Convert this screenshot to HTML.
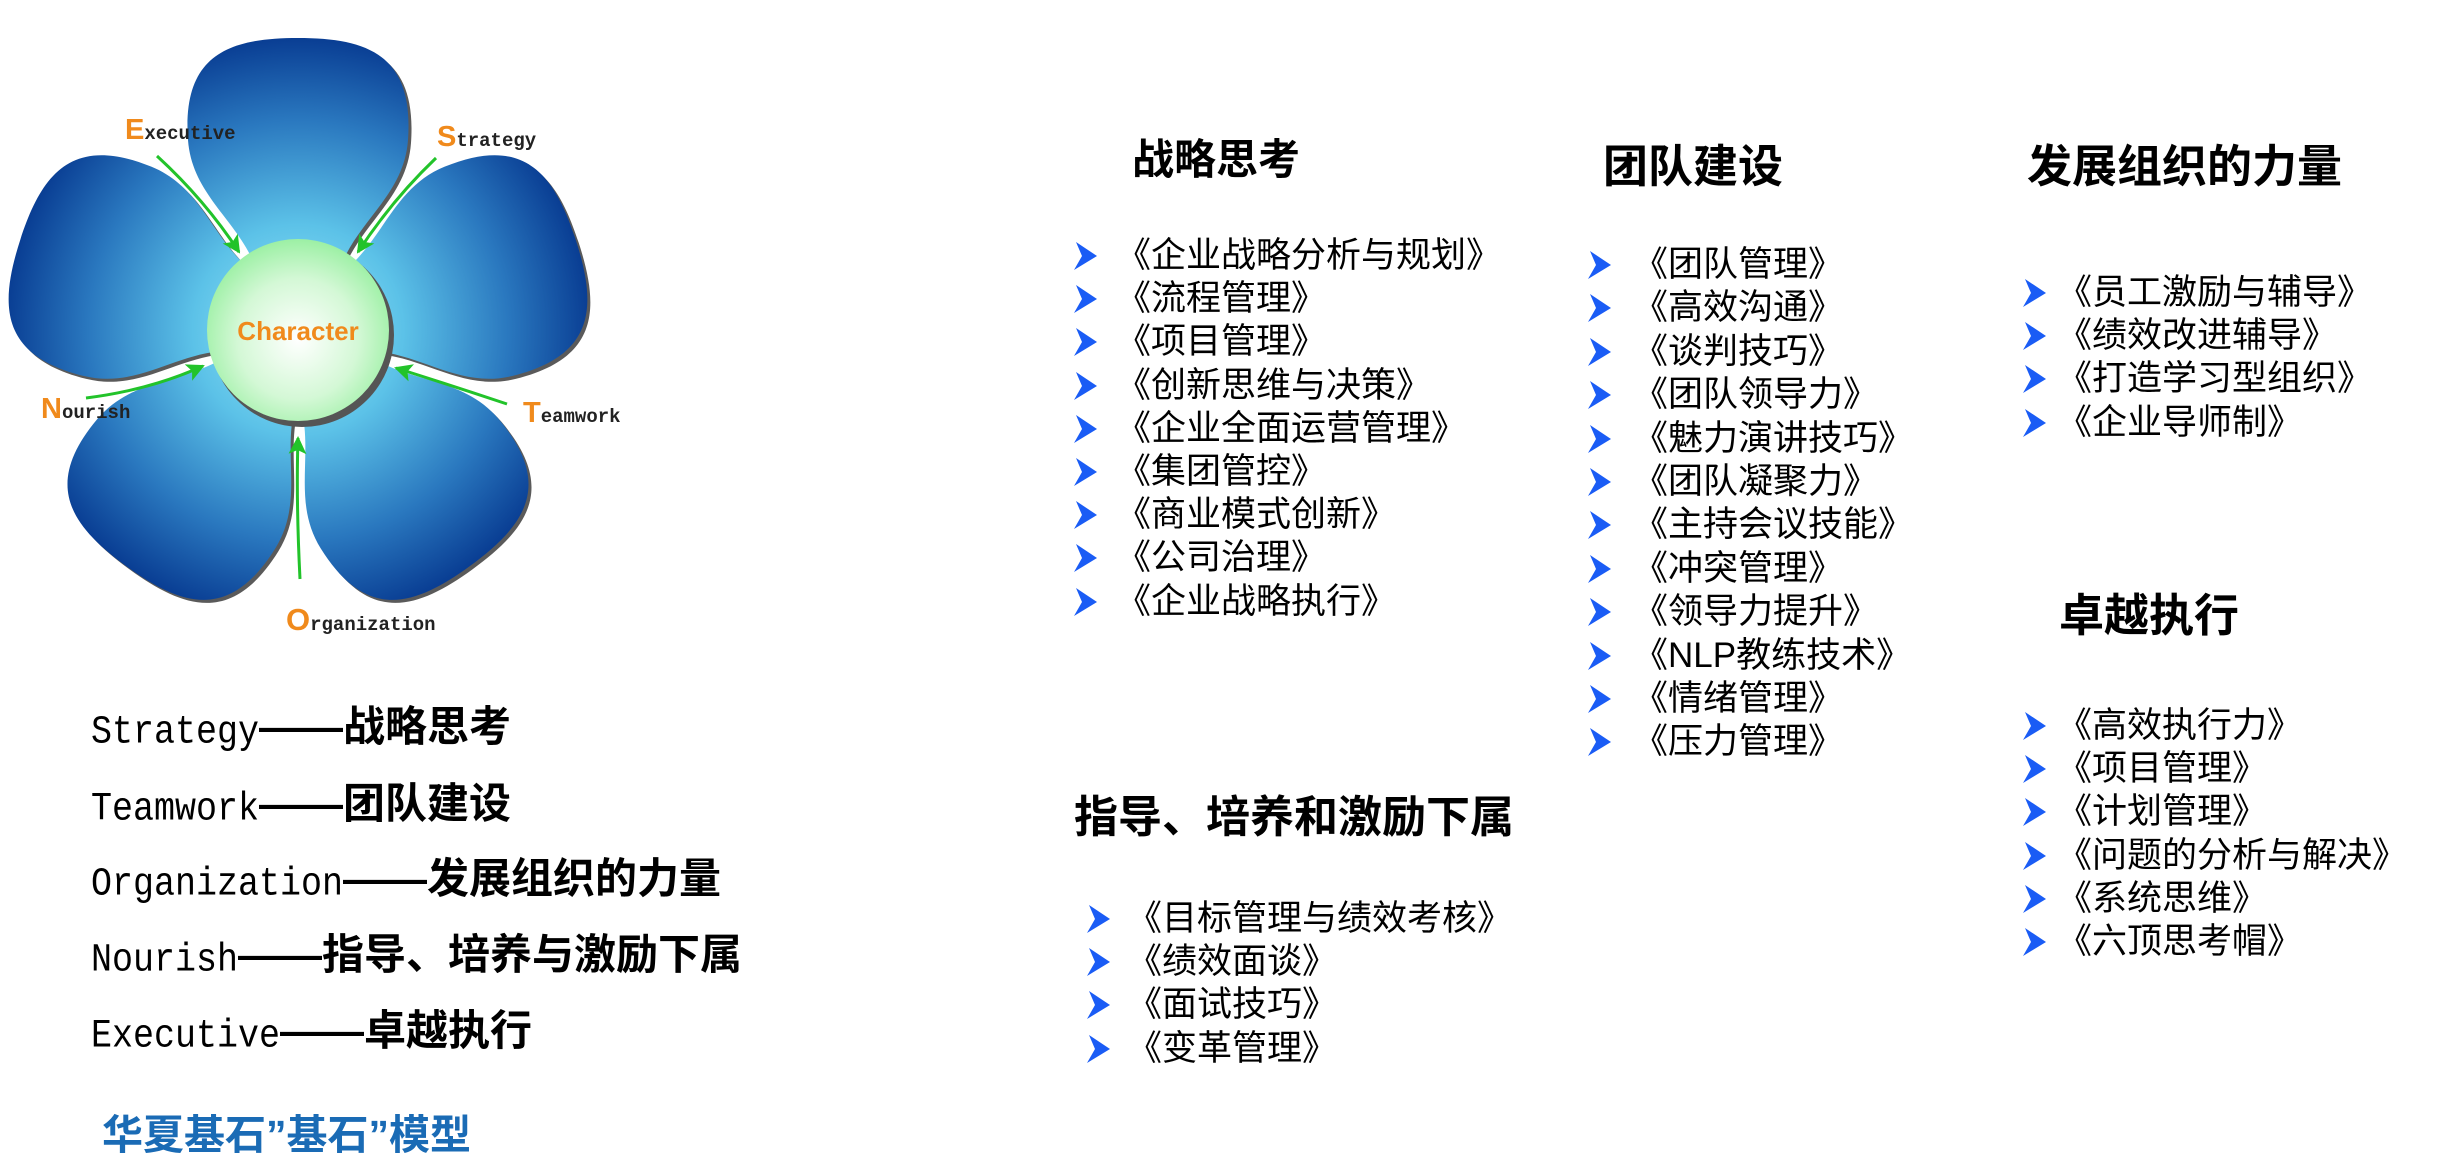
<!DOCTYPE html>
<html><head><meta charset="utf-8">
<style>
html,body{margin:0;padding:0;background:#fff;}
#w{position:relative;width:2458px;height:1164px;overflow:hidden;background:#fff;font-family:"Liberation Sans","Noto Sans CJK SC",sans-serif;color:#000;}
.t{position:absolute;white-space:nowrap;font-weight:700;font-family:"Liberation Sans","Noto Sans CJK SC",sans-serif;}
.col{position:absolute;}
.row{position:relative;height:43.2px;line-height:43.2px;font-size:35px;white-space:nowrap;}
.row svg{position:absolute;left:0;top:8px;}
.row span{position:absolute;}
.lg{position:absolute;left:91px;white-space:nowrap;height:50px;line-height:50px;}
.lg .a{font-family:"Liberation Mono",monospace;font-size:35px;display:inline-block;transform:scaleY(1.15);}
.lg .b{font-family:"Liberation Sans","Noto Sans CJK SC",sans-serif;font-size:42px;font-weight:700;}
</style></head><body><div id="w">

<svg width="660" height="660" style="position:absolute;left:0;top:0" viewBox="0 0 660 660">
<defs>
<radialGradient id="pg" gradientUnits="userSpaceOnUse" cx="0" cy="0" r="300">
<stop offset="0" stop-color="#9ae6f7"/>
<stop offset="0.35" stop-color="#5cc2e8"/>
<stop offset="0.7" stop-color="#2a78bf"/>
<stop offset="1" stop-color="#06388f"/>
</radialGradient>
<radialGradient id="cg" cx="0.5" cy="0.55" r="0.55">
<stop offset="0" stop-color="#ffffff"/>
<stop offset="0.6" stop-color="#d4f8d6"/>
<stop offset="1" stop-color="#9cf0a4"/>
</radialGradient>
<marker id="ar" markerWidth="20" markerHeight="20" refX="16" refY="10" orient="auto" markerUnits="userSpaceOnUse" viewBox="0 0 20 20">
<path d="M0,1 L18,10 L0,19 L4,10 Z" fill="#22c32a"/>
</marker>
<path id="pt" d="M62,-42 C110,-60 135,-106 190,-110 C275,-116 292,-70 292,0 C292,70 275,116 190,110 C135,106 110,60 62,42 Z"/>
</defs>
<g transform="translate(298,330)">
<g fill="#5a5a5a">
<use href="#pt" transform="translate(3,3) rotate(-90)"/>
<use href="#pt" transform="translate(3,3) rotate(-18)"/>
<use href="#pt" transform="translate(3,3) rotate(54)"/>
<use href="#pt" transform="translate(3,3) rotate(126)"/>
<use href="#pt" transform="translate(3,3) rotate(198)"/>
</g>
<g fill="url(#pg)">
<use href="#pt" transform="rotate(-90)"/>
<use href="#pt" transform="rotate(-18)"/>
<use href="#pt" transform="rotate(54)"/>
<use href="#pt" transform="rotate(126)"/>
<use href="#pt" transform="rotate(198)"/>
</g>
<circle cx="4" cy="5" r="92" fill="#555"/>
<circle cx="0" cy="0" r="91" fill="url(#cg)"/>
</g>
<g stroke="#22c32a" stroke-width="3" fill="none" marker-end="url(#ar)">
<path d="M157,156 Q205,200 239,252"/>
<path d="M436,158 Q392,200 358,252"/>
<path d="M86,398 Q150,390 203,366"/>
<path d="M507,404 Q450,385 396,368"/>
<path d="M300,579 Q296,500 298,438"/>
</g>
<text x="298" y="340" text-anchor="middle" font-family="Liberation Sans,sans-serif" font-weight="bold" font-size="26" fill="#f08a1c">Character</text>
<g font-family="Liberation Mono,monospace" font-weight="bold" font-size="19" fill="#222">
<text x="125" y="139"><tspan fill="#f08a1c" font-size="29" font-family="Liberation Sans,sans-serif">E</tspan>xecutive</text>
<text x="437" y="146"><tspan fill="#f08a1c" font-size="29" font-family="Liberation Sans,sans-serif">S</tspan>trategy</text>
<text x="41" y="418"><tspan fill="#f08a1c" font-size="29" font-family="Liberation Sans,sans-serif">N</tspan>ourish</text>
<text x="523" y="422"><tspan fill="#f08a1c" font-size="29" font-family="Liberation Sans,sans-serif">T</tspan>eamwork</text>
<text x="286" y="630"><tspan fill="#f08a1c" font-size="31" font-family="Liberation Sans,sans-serif">O</tspan>rganization</text>
</g>
</svg>

<div class="t" style="left:1132px;top:136px;font-size:42px;line-height:48px;">战略思考</div>
<div class="t" style="left:1603px;top:142px;font-size:45px;line-height:50px;">团队建设</div>
<div class="t" style="left:2027px;top:142px;font-size:45px;line-height:50px;">发展组织的力量</div>
<div class="t" style="left:2059px;top:591px;font-size:45px;line-height:50px;">卓越执行</div>
<div class="t" style="left:1074px;top:793px;font-size:44px;line-height:50px;">指导、培养和激励下属</div>

<div class="col" style="left:1074px;top:234px;">
<div class="row"><svg width="24" height="28"><path d="M2,0 L23,14 L0,28 L8,14 Z" fill="#1a5cf5"/></svg><span style="left:42px">《企业战略分析与规划》</span></div>
<div class="row"><svg width="24" height="28"><path d="M2,0 L23,14 L0,28 L8,14 Z" fill="#1a5cf5"/></svg><span style="left:42px">《流程管理》</span></div>
<div class="row"><svg width="24" height="28"><path d="M2,0 L23,14 L0,28 L8,14 Z" fill="#1a5cf5"/></svg><span style="left:42px">《项目管理》</span></div>
<div class="row"><svg width="24" height="28"><path d="M2,0 L23,14 L0,28 L8,14 Z" fill="#1a5cf5"/></svg><span style="left:42px">《创新思维与决策》</span></div>
<div class="row"><svg width="24" height="28"><path d="M2,0 L23,14 L0,28 L8,14 Z" fill="#1a5cf5"/></svg><span style="left:42px">《企业全面运营管理》</span></div>
<div class="row"><svg width="24" height="28"><path d="M2,0 L23,14 L0,28 L8,14 Z" fill="#1a5cf5"/></svg><span style="left:42px">《集团管控》</span></div>
<div class="row"><svg width="24" height="28"><path d="M2,0 L23,14 L0,28 L8,14 Z" fill="#1a5cf5"/></svg><span style="left:42px">《商业模式创新》</span></div>
<div class="row"><svg width="24" height="28"><path d="M2,0 L23,14 L0,28 L8,14 Z" fill="#1a5cf5"/></svg><span style="left:42px">《公司治理》</span></div>
<div class="row"><svg width="24" height="28"><path d="M2,0 L23,14 L0,28 L8,14 Z" fill="#1a5cf5"/></svg><span style="left:42px">《企业战略执行》</span></div>
</div>

<div class="col" style="left:1588px;top:243px;">
<div class="row" style="height:43.4px"><svg width="24" height="28"><path d="M2,0 L23,14 L0,28 L8,14 Z" fill="#1a5cf5"/></svg><span style="left:45px">《团队管理》</span></div>
<div class="row" style="height:43.4px"><svg width="24" height="28"><path d="M2,0 L23,14 L0,28 L8,14 Z" fill="#1a5cf5"/></svg><span style="left:45px">《高效沟通》</span></div>
<div class="row" style="height:43.4px"><svg width="24" height="28"><path d="M2,0 L23,14 L0,28 L8,14 Z" fill="#1a5cf5"/></svg><span style="left:45px">《谈判技巧》</span></div>
<div class="row" style="height:43.4px"><svg width="24" height="28"><path d="M2,0 L23,14 L0,28 L8,14 Z" fill="#1a5cf5"/></svg><span style="left:45px">《团队领导力》</span></div>
<div class="row" style="height:43.4px"><svg width="24" height="28"><path d="M2,0 L23,14 L0,28 L8,14 Z" fill="#1a5cf5"/></svg><span style="left:45px">《魅力演讲技巧》</span></div>
<div class="row" style="height:43.4px"><svg width="24" height="28"><path d="M2,0 L23,14 L0,28 L8,14 Z" fill="#1a5cf5"/></svg><span style="left:45px">《团队凝聚力》</span></div>
<div class="row" style="height:43.4px"><svg width="24" height="28"><path d="M2,0 L23,14 L0,28 L8,14 Z" fill="#1a5cf5"/></svg><span style="left:45px">《主持会议技能》</span></div>
<div class="row" style="height:43.4px"><svg width="24" height="28"><path d="M2,0 L23,14 L0,28 L8,14 Z" fill="#1a5cf5"/></svg><span style="left:45px">《冲突管理》</span></div>
<div class="row" style="height:43.4px"><svg width="24" height="28"><path d="M2,0 L23,14 L0,28 L8,14 Z" fill="#1a5cf5"/></svg><span style="left:45px">《领导力提升》</span></div>
<div class="row" style="height:43.4px"><svg width="24" height="28"><path d="M2,0 L23,14 L0,28 L8,14 Z" fill="#1a5cf5"/></svg><span style="left:45px">《NLP教练技术》</span></div>
<div class="row" style="height:43.4px"><svg width="24" height="28"><path d="M2,0 L23,14 L0,28 L8,14 Z" fill="#1a5cf5"/></svg><span style="left:45px">《情绪管理》</span></div>
<div class="row" style="height:43.4px"><svg width="24" height="28"><path d="M2,0 L23,14 L0,28 L8,14 Z" fill="#1a5cf5"/></svg><span style="left:45px">《压力管理》</span></div>
</div>

<div class="col" style="left:2023px;top:271px;">
<div class="row"><svg width="24" height="28"><path d="M2,0 L23,14 L0,28 L8,14 Z" fill="#1a5cf5"/></svg><span style="left:34px">《员工激励与辅导》</span></div>
<div class="row"><svg width="24" height="28"><path d="M2,0 L23,14 L0,28 L8,14 Z" fill="#1a5cf5"/></svg><span style="left:34px">《绩效改进辅导》</span></div>
<div class="row"><svg width="24" height="28"><path d="M2,0 L23,14 L0,28 L8,14 Z" fill="#1a5cf5"/></svg><span style="left:34px">《打造学习型组织》</span></div>
<div class="row"><svg width="24" height="28"><path d="M2,0 L23,14 L0,28 L8,14 Z" fill="#1a5cf5"/></svg><span style="left:34px">《企业导师制》</span></div>
</div>

<div class="col" style="left:2023px;top:704px;">
<div class="row"><svg width="24" height="28"><path d="M2,0 L23,14 L0,28 L8,14 Z" fill="#1a5cf5"/></svg><span style="left:34px">《高效执行力》</span></div>
<div class="row"><svg width="24" height="28"><path d="M2,0 L23,14 L0,28 L8,14 Z" fill="#1a5cf5"/></svg><span style="left:34px">《项目管理》</span></div>
<div class="row"><svg width="24" height="28"><path d="M2,0 L23,14 L0,28 L8,14 Z" fill="#1a5cf5"/></svg><span style="left:34px">《计划管理》</span></div>
<div class="row"><svg width="24" height="28"><path d="M2,0 L23,14 L0,28 L8,14 Z" fill="#1a5cf5"/></svg><span style="left:34px">《问题的分析与解决》</span></div>
<div class="row"><svg width="24" height="28"><path d="M2,0 L23,14 L0,28 L8,14 Z" fill="#1a5cf5"/></svg><span style="left:34px">《系统思维》</span></div>
<div class="row"><svg width="24" height="28"><path d="M2,0 L23,14 L0,28 L8,14 Z" fill="#1a5cf5"/></svg><span style="left:34px">《六顶思考帽》</span></div>
</div>

<div class="col" style="left:1087px;top:897px;">
<div class="row"><svg width="24" height="28"><path d="M2,0 L23,14 L0,28 L8,14 Z" fill="#1a5cf5"/></svg><span style="left:40px">《目标管理与绩效考核》</span></div>
<div class="row"><svg width="24" height="28"><path d="M2,0 L23,14 L0,28 L8,14 Z" fill="#1a5cf5"/></svg><span style="left:40px">《绩效面谈》</span></div>
<div class="row"><svg width="24" height="28"><path d="M2,0 L23,14 L0,28 L8,14 Z" fill="#1a5cf5"/></svg><span style="left:40px">《面试技巧》</span></div>
<div class="row"><svg width="24" height="28"><path d="M2,0 L23,14 L0,28 L8,14 Z" fill="#1a5cf5"/></svg><span style="left:40px">《变革管理》</span></div>
</div>

<div class="lg" style="top:702px"><span class="a">Strategy</span><span class="b">——战略思考</span></div>
<div class="lg" style="top:779px"><span class="a">Teamwork</span><span class="b">——团队建设</span></div>
<div class="lg" style="top:854px"><span class="a">Organization</span><span class="b">——发展组织的力量</span></div>
<div class="lg" style="top:930px"><span class="a">Nourish</span><span class="b">——指导、培养与激励下属</span></div>
<div class="lg" style="top:1006px"><span class="a">Executive</span><span class="b">——卓越执行</span></div>

<div class="t" style="left:102px;top:1112px;font-size:41px;line-height:46px;color:#1a6bb5;">华夏基石”基石”模型</div>

</div></body></html>
